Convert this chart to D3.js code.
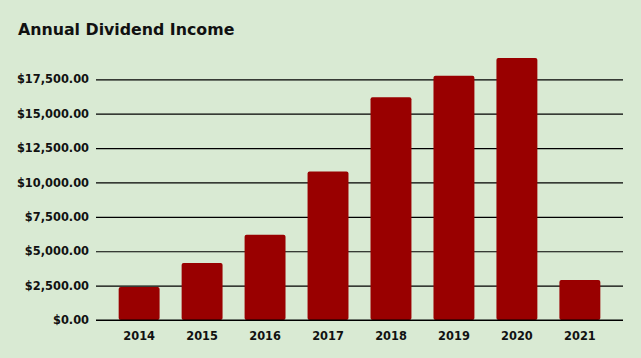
<!DOCTYPE html>
<html><head><meta charset="utf-8">
<script src="https://cdn.jsdelivr.net/npm/d3@7"></script>
<style>body{margin:0;background:#d9ead3;}svg{display:block;}</style>
</head><body>
<script>
const years = ["2014","2015","2016","2017","2018","2019","2020","2021"];
const income = [2400, 4150, 6200, 10800, 16200, 17750, 19050, 2900];
const yTicks = [0, 2500, 5000, 7500, 10000, 12500, 15000, 17500];

(function () {
const W = 641, H = 358;
const svg = d3.select("body").append("svg").attr("width", W).attr("height", H);
svg.append("rect").attr("width", W).attr("height", H).attr("fill", "#d9ead3");

const mLeft = 96, mRight = 623, mTop = 79.3, mBottom = 320;
const y = d3.scaleLinear().domain([0, 17500]).range([mBottom, mTop]);
const x = d3.scaleBand().domain(years).range([mLeft, mRight]).paddingInner(0.35).paddingOuter(0.36);

svg.append("text").attr("x", 18).attr("y", 35)
  .attr("font-family", "DejaVu Sans").attr("font-weight", "bold").attr("font-size", 15.8)
  .attr("fill", "#111").text("Annual Dividend Income");

const yAxis = d3.axisLeft(y).tickValues(yTicks).tickSize(-(mRight - mLeft)).tickPadding(7)
  .tickFormat(d => "$" + d3.format(",.2f")(d));
const gy = svg.append("g").attr("transform", `translate(${mLeft},0)`).call(yAxis);
gy.select(".domain").remove();
gy.selectAll(".tick line").attr("stroke", "#000").attr("stroke-width", 1.2);
gy.selectAll(".tick text").attr("font-family", "DejaVu Sans").attr("font-weight", "bold")
  .attr("font-size", 11.4).attr("fill", "#111");

svg.append("g").selectAll("rect").data(years).join("rect")
  .attr("x", d => x(d)).attr("width", x.bandwidth())
  .attr("y", (d, i) => y(income[i])).attr("height", (d, i) => y(0) - y(income[i]))
  .attr("rx", 2).attr("fill", "#990000");

svg.append("line").attr("x1", mLeft).attr("x2", mRight).attr("y1", y(0)).attr("y2", y(0))
  .attr("stroke", "#000").attr("stroke-width", 1.2);

const xAxis = d3.axisBottom(x).tickSize(0).tickPadding(12);
const gx = svg.append("g").attr("transform", `translate(0,${mBottom})`).call(xAxis);
gx.select(".domain").remove();
gx.selectAll(".tick text").attr("font-family", "DejaVu Sans").attr("font-weight", "bold")
  .attr("font-size", 11.4).attr("fill", "#111");
})();
</script>
</body></html>
